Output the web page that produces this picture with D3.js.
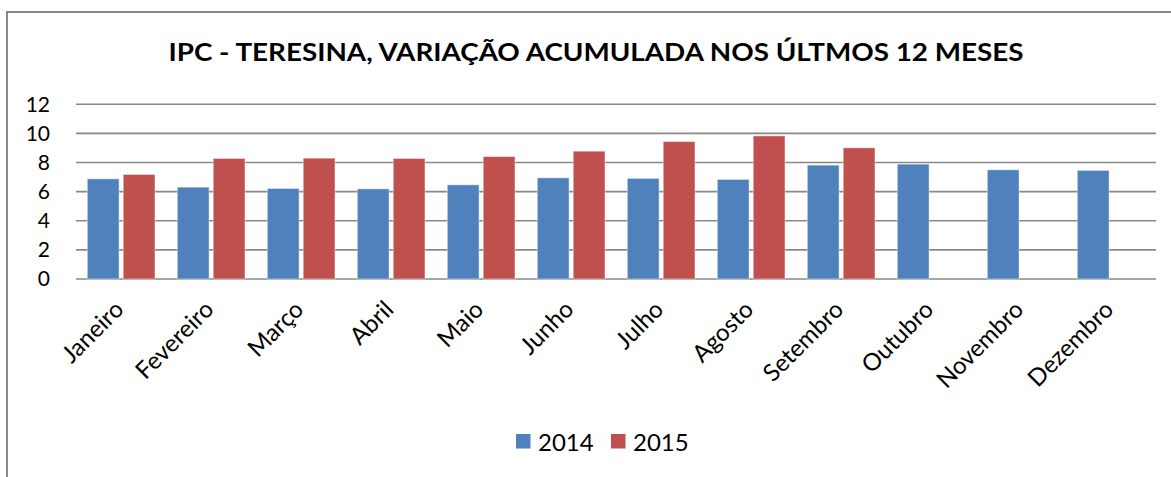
<!DOCTYPE html>
<html lang="pt">
    <head>
        <meta charset="utf-8">
        <title>IPC - Teresina</title>
        <script src="https://d3js.org/d3.v7.min.js"></script>
        <style type="text/css">
            body { margin: 0; background: #fff; }
            text { font-family: Lato, "Open Sans", sans-serif; fill: #000; }
        </style>
    </head>
    <body>
        <svg width="1171" height="477"></svg>
        <script type="text/javascript">

            // data
            const months = ["Janeiro", "Fevereiro", "Março", "Abril", "Maio", "Junho",
                            "Julho", "Agosto", "Setembro", "Outubro", "Novembro", "Dezembro"];
            const v2014 = [6.88, 6.31, 6.22, 6.19, 6.47, 6.95, 6.91, 6.84, 7.82, 7.89, 7.50, 7.46];
            const v2015 = [7.18, 8.28, 8.30, 8.28, 8.41, 8.78, 9.44, 9.83, 9.01, null, null, null];
            const seriesNames = ["2014", "2015"];
            const yTicks = [0, 2, 4, 6, 8, 10, 12];

            const colors = ["#4F81BD", "#C0504D"];
            const svg = d3.select("svg");

            // chart frame (left + top edges visible)
            svg.append("path")
               .attr("d", "M7,477 V12 H1171")
               .attr("fill", "none")
               .attr("stroke", "#888")
               .attr("stroke-width", 2);

            // title
            svg.append("text")
               .attr("x", 596)
               .attr("y", 61)
               .attr("text-anchor", "middle")
               .attr("font-weight", "bold")
               .attr("font-size", 24)
               .attr("textLength", 855)
               .attr("lengthAdjust", "spacingAndGlyphs")
               .text("IPC - TERESINA, VARIAÇÃO ACUMULADA NOS ÚLTMOS 12 MESES");

            const plotLeft = 76, plotRight = 1156, plotTop = 104.3, plotBottom = 279;

            const xScale = d3.scaleBand()
                             .domain(months)
                             .range([plotLeft, plotRight]);

            const yScale = d3.scaleLinear()
                             .domain([0, 12])
                             .range([plotBottom, plotTop]);

            // gridlines
            svg.append("g")
               .selectAll("line")
               .data(yTicks)
               .enter()
               .append("line")
               .attr("x1", plotLeft)
               .attr("x2", plotRight)
               .attr("y1", d => yScale(d))
               .attr("y2", d => yScale(d))
               .attr("stroke", "#888")
               .attr("stroke-width", 1.6);

            // y labels
            svg.append("g")
               .selectAll("text")
               .data(yTicks)
               .enter()
               .append("text")
               .attr("x", 50)
               .attr("y", d => yScale(d))
               .attr("dy", "0.35em")
               .attr("text-anchor", "end")
               .attr("font-size", 21)
               .text(d => d);

            // bars
            const inner = d3.scaleBand()
                            .domain([0, 1])
                            .range([11.3, 79])
                            .paddingInner(0.115);

            const data = [v2014, v2015];
            const groups = svg.selectAll("g.series")
                              .data(data)
                              .enter()
                              .append("g")
                              .attr("class", "series")
                              .style("fill", (d, i) => colors[i]);

            groups.each(function(vals, si) {
                d3.select(this).selectAll("rect")
                  .data(vals.map((v, i) => ({v: v, m: months[i]})).filter(d => d.v != null))
                  .enter()
                  .append("rect")
                  .attr("x", d => xScale(d.m) + inner(si))
                  .attr("y", d => yScale(d.v))
                  .attr("width", inner.bandwidth())
                  .attr("height", d => yScale(0) - yScale(d.v))
                  .attr("stroke", "rgba(255,255,255,0.45)")
                  .attr("stroke-width", 1);
            });

            // x labels rotated
            svg.append("g")
               .selectAll("text")
               .data(months)
               .enter()
               .append("text")
               .attr("transform", d => `translate(${xScale(d) + xScale.bandwidth() / 2 + 4},311) rotate(-45)`)
               .attr("text-anchor", "end")
               .attr("font-size", 24)
               .text(d => d);

            // legend
            const legend = svg.append("g");
            const lx = [516, 611];
            seriesNames.forEach((name, i) => {
                legend.append("rect")
                      .attr("x", lx[i])
                      .attr("y", 434)
                      .attr("width", 14.5)
                      .attr("height", 14.5)
                      .attr("fill", colors[i]);
                legend.append("text")
                      .attr("x", lx[i] + 22)
                      .attr("y", 450.5)
                      .attr("font-size", 24)
                      .text(name);
            });

        </script>
    </body>
</html>
